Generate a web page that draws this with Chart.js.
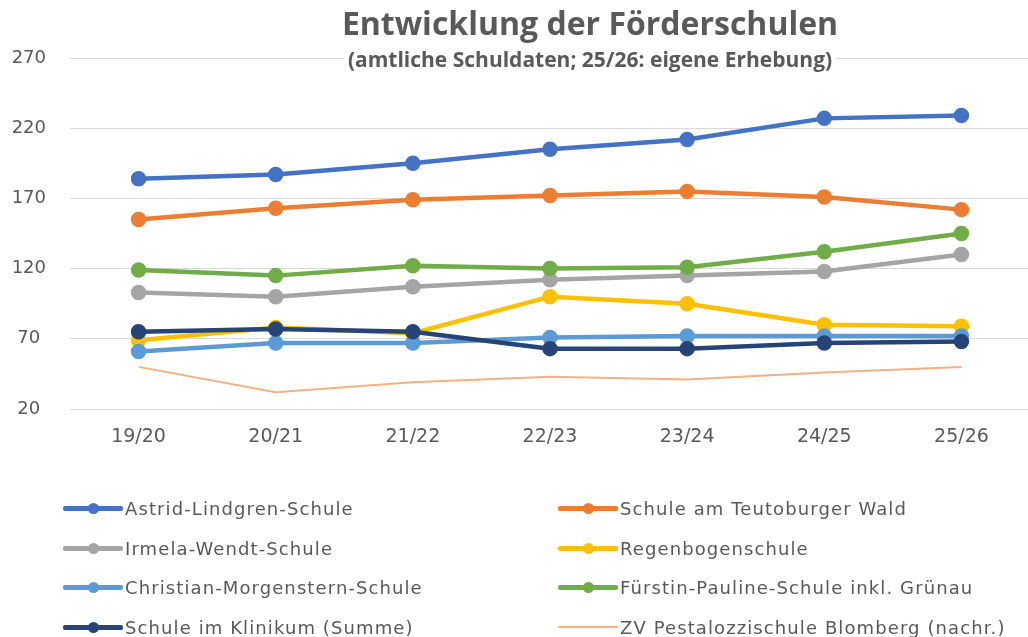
<!DOCTYPE html>
<html lang="de">
<head>
<meta charset="utf-8">
<title>Entwicklung der Förderschulen</title>
<script src="https://cdn.jsdelivr.net/npm/chart.js@4.4.1/dist/chart.umd.min.js"></script>
<style>
	html, body { margin: 0; padding: 0; background: #fff; overflow: hidden; }
	#caixa { position: relative; width: 1040px; height: 637px; }
	#legenda .item { position: absolute; height: 20px; display: flex; align-items: center;
		font: 18px "DejaVu Sans"; letter-spacing: 1.1px; color: #595959; white-space: nowrap; }
	.amostra { position: relative; width: 60px; height: 20px; margin-right: 2px; }
	.amostra .linha { position: absolute; left: 0; right: 0; top: 8px; height: 5px; border-radius: 2px; }
	.amostra .ponto { position: absolute; left: 25px; top: 5px; width: 11px; height: 11px; border-radius: 50%; }
</style>
</head>
<body>
<div id="caixa">
	<canvas id="graficoFoerderschulen" width="1040" height="637"></canvas>
	<div id="legenda"></div>
</div>
<script>
// dados
var titulo = 'Entwicklung der Förderschulen';
var subtitulo = '(amtliche Schuldaten; 25/26: eigene Erhebung)';
var anos = ['19/20', '20/21', '21/22', '22/23', '23/24', '24/25', '25/26'];
var escolas = [
	'Astrid-Lindgren-Schule',
	'Schule am Teutoburger Wald',
	'Irmela-Wendt-Schule',
	'Regenbogenschule',
	'Christian-Morgenstern-Schule',
	'Fürstin-Pauline-Schule inkl. Grünau',
	'Schule im Klinikum (Summe)',
	'ZV Pestalozzischule Blomberg (nachr.)'
];
var astrid = [184, 187, 195, 205, 212, 227, 229];
var teutoburger = [155, 163, 169, 172, 175, 171, 162];
var irmela = [103, 100, 107, 112, 115, 118, 130];
var regenbogen = [69, 78, 74, 100, 95, 80, 79];
var christian = [61, 67, 67, 71, 72, 72, 72];
var fuerstin = [119, 115, 122, 120, 121, 132, 145];
var klinikum = [75, 77, 75, 63, 63, 67, 68];
var pestalozzi = [50, 32, 39, 43, 41, 46, 50];
var cores = ['#4472C4', '#ED7D31', '#A5A5A5', '#FFC000', '#5B9BD5', '#70AD47', '#264478', '#F4B183'];

var Escolas = Escolas || {};

Escolas.Grafico = (function() {

	function Grafico() {
		this.ctx = document.getElementById('graficoFoerderschulen').getContext('2d');
	}

	Grafico.prototype.iniciar = function() {
		var series = [astrid, teutoburger, irmela, regenbogen, christian, fuerstin, klinikum, pestalozzi];
		var datasets = series.map(function(valores, i) {
			var fino = i === 7;
			return {
				label: escolas[i],
				data: valores,
				borderColor: cores[i],
				backgroundColor: cores[i],
				pointBackgroundColor: cores[i],
				pointBorderColor: cores[i],
				borderWidth: fino ? 2 : 4.5,
				pointRadius: fino ? 0 : 5.5,
				pointHoverRadius: fino ? 0 : 5.5,
				tension: 0,
				order: series.length - i
			};
		});

		this.grafico = new Chart(this.ctx, {
			type: 'line',
			data: { labels: anos, datasets: datasets },
			options: {
				responsive: false,
				animation: false,
				layout: { padding: { top: 58, left: 0, right: 4, bottom: 0 } },
				plugins: { legend: { display: false }, title: { display: false }, tooltip: { enabled: false } },
				scales: {
					x: {
						offset: true,
						grid: { display: false, drawTicks: false },
						border: { display: false },
						ticks: { color: '#595959', font: { family: 'DejaVu Sans', size: 19 }, padding: 17 },
						afterFit: function(scale) { scale.height = 228; }
					},
					y: {
						min: 20,
						max: 270,
						grid: { color: '#D9D9D9', lineWidth: 1, drawTicks: false },
						border: { display: false },
						ticks: { stepSize: 50, color: '#595959', font: { family: 'DejaVu Sans', size: 18 },
							padding: 24, crossAlign: 'center' },
						afterFit: function(scale) { scale.width = 70; }
					}
				}
			},
			plugins: [pluginTitulo]
		});
		montarLegenda(this.grafico);
	};

	var pluginTitulo = {
		id: 'tituloDoGrafico',
		afterDraw: function(chart) {
			var ctx = chart.ctx;
			ctx.save();
			ctx.textAlign = 'center';
			ctx.textBaseline = 'middle';
			ctx.font = 'bold 21px "Open Sans"';
			var w = ctx.measureText(subtitulo).width;
			ctx.fillStyle = '#fff';
			ctx.fillRect(590 - w / 2 - 4, 50, w + 8, 22);
			ctx.fillStyle = '#595959';
			ctx.fillText(subtitulo, 590, 61);
			ctx.font = 'bold 32px "Open Sans"';
			ctx.fillText(titulo, 590, 26);
			ctx.restore();
		}
	};

	function montarLegenda(grafico) {
		var caixa = document.getElementById('legenda');
		var linhas = [508, 548, 587, 627];
		grafico.data.datasets.forEach(function(ds, i) {
			var item = document.createElement('div');
			item.className = 'item';
			item.style.left = (i % 2 === 0 ? 63 : 558) + 'px';
			item.style.top = (linhas[Math.floor(i / 2)] - 10) + 'px';
			var amostra = document.createElement('span');
			amostra.className = 'amostra';
			var linha = document.createElement('span');
			linha.className = 'linha';
			linha.style.background = ds.borderColor;
			if (ds.pointRadius === 0) { linha.style.height = '2px'; linha.style.top = '9px'; }
			amostra.appendChild(linha);
			if (ds.pointRadius > 0) {
				var ponto = document.createElement('span');
				ponto.className = 'ponto';
				ponto.style.background = ds.borderColor;
				amostra.appendChild(ponto);
			}
			var texto = document.createElement('span');
			texto.textContent = ds.label;
			item.appendChild(amostra);
			item.appendChild(texto);
			caixa.appendChild(item);
		});
	}

	return Grafico;
}());

window.addEventListener('load', function() {
	var grafico = new Escolas.Grafico();
	grafico.iniciar();
});
</script>
</body>
</html>
